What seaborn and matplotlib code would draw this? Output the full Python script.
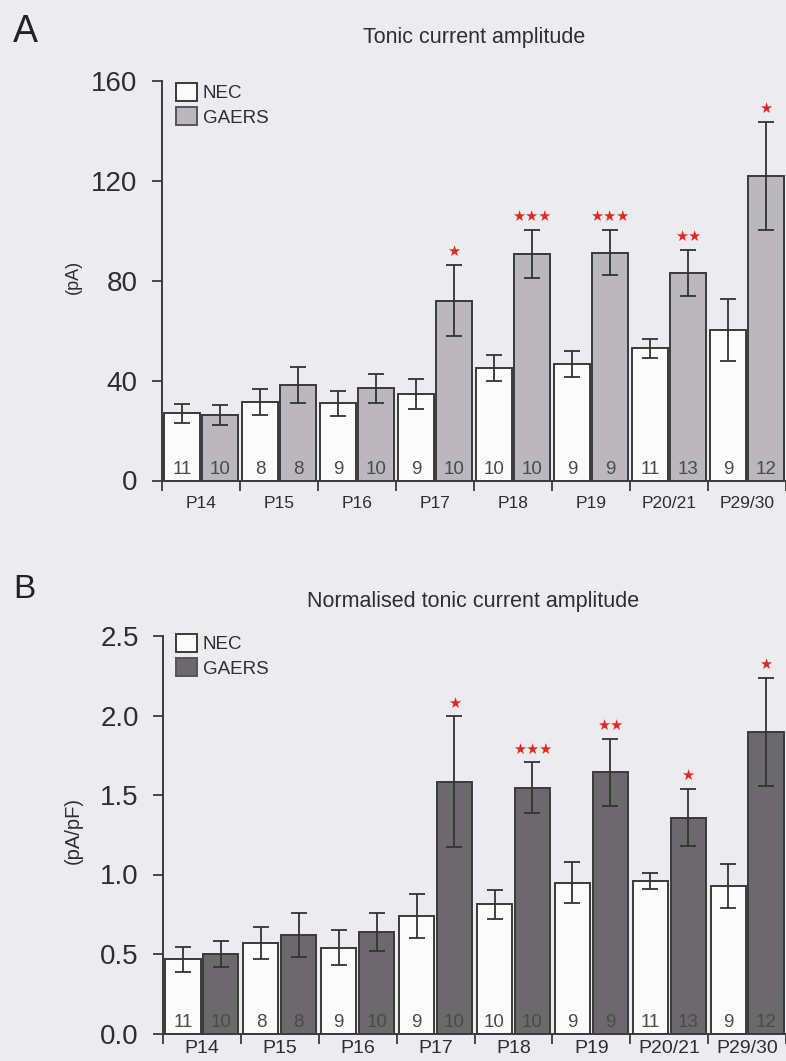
import numpy as np
import pandas as pd
import matplotlib
matplotlib.use("Agg")
import matplotlib.pyplot as plt
from matplotlib.patches import Patch
import seaborn as sns

# ---------------- data ----------------
ages = ["P14", "P15", "P16", "P17", "P18", "P19", "P20/21", "P29/30"]
strains = ["NEC", "GAERS"]

tonic_nec = [27, 31.5, 31, 34.7, 45, 46.7, 53, 60.3]
tonic_nec_sem = [3.8, 5.3, 5, 6.1, 5.2, 5.1, 3.8, 12.5]
tonic_gaers = [26.3, 38.2, 36.9, 72, 90.7, 91.3, 83.1, 122]
tonic_gaers_sem = [4, 7.1, 5.8, 14.3, 9.7, 9.1, 9.2, 21.6]

norm_nec = [0.467, 0.571, 0.54, 0.739, 0.813, 0.948, 0.961, 0.928]
norm_nec_sem = [0.079, 0.10, 0.11, 0.14, 0.09, 0.13, 0.05, 0.14]
norm_gaers = [0.50, 0.62, 0.64, 1.584, 1.546, 1.643, 1.357, 1.898]
norm_gaers_sem = [0.08, 0.14, 0.12, 0.41, 0.16, 0.21, 0.18, 0.34]

n_nec = [11, 8, 9, 9, 10, 9, 11, 9]
n_gaers = [10, 8, 10, 10, 10, 9, 13, 12]

sig_tonic = ["", "", "", "★", "★★★", "★★★", "★★", "★"]
sig_norm = ["", "", "", "★", "★★★", "★★", "★", "★"]

# ---------------- style ----------------
sns.set_style("ticks")
plt.rcParams["font.family"] = ["Liberation Sans", "DejaVu Sans"]

BG = "#ecebf0"
EDGE = "#3a3a3a"
TXT = "#2e2e2e"
STAR = "#e3281e"

W, H = 786, 1061
fig = plt.figure(figsize=(W / 100, H / 100), dpi=100, facecolor=BG)


def panel(rect, xr, nec, nec_sem, gaers, gaers_sem, sig, gcol, yticks, ylabels,
          ylim, xlab_size, xlab_pad):
    ax = fig.add_axes(rect)
    ax.set_facecolor("none")
    df = pd.DataFrame({
        "age": ages * 2,
        "strain": ["NEC"] * len(ages) + ["GAERS"] * len(ages),
        "value": list(nec) + list(gaers),
    })
    sns.barplot(data=df, x="age", y="value", hue="strain", order=ages,
                hue_order=strains, palette={"NEC": "#fbfbfb", "GAERS": gcol},
                saturation=1, errorbar=None, width=0.97, gap=0.07,
                edgecolor=EDGE, linewidth=1.4, legend=False, ax=ax, zorder=2)
    bars = sorted([p for p in ax.patches], key=lambda p: p.get_x())
    xs = [p.get_x() + p.get_width() / 2 for p in bars]
    hs = [p.get_height() for p in bars]
    errs, counts, stars = [], [], []
    for i in range(len(ages)):
        errs += [nec_sem[i], gaers_sem[i]]
        counts += [n_nec[i], n_gaers[i]]
        stars += ["", sig[i]]
    ax.errorbar(xs, hs, yerr=errs, fmt="none", ecolor="#333333",
                elinewidth=1.3, capsize=5.8, capthick=1.3, zorder=3)
    for x, h, e, c, s in zip(xs, hs, errs, counts, stars):
        ax.annotate(str(c), xy=(x, 0), xytext=(0, 5), textcoords="offset points",
                    ha="center", va="baseline", fontsize=13.5, color="#4a4a4a",
                    zorder=4)
        if s:
            ax.annotate(s, xy=(x, h + e), xytext=(0, 9.5),
                        textcoords="offset points", ha="center", va="center",
                        fontsize=10.5, color=STAR, family="DejaVu Sans",
                        annotation_clip=False, zorder=4)
    ax.set_xlim(*xr)
    ax.set_ylim(*ylim)
    ax.set_yticks(yticks)
    ax.set_yticklabels(ylabels)
    ax.set_xticks(np.arange(-0.5, len(ages), 1.0))
    ax.set_xticklabels([])
    ax.set_xticks(np.arange(len(ages)), minor=True)
    ax.set_xticklabels(ages, minor=True)
    ax.tick_params(axis="x", which="major", length=7.2, width=1.3,
                   color=EDGE, direction="out")
    ax.tick_params(axis="x", which="minor", length=0, pad=xlab_pad,
                   labelsize=xlab_size, labelcolor=TXT)
    ax.tick_params(axis="y", length=7.5, width=1.3, color=EDGE, pad=10,
                   labelsize=20, labelcolor=TXT, direction="out")
    ax.set_xlabel("")
    ax.set_ylabel("")
    for s in ["top", "right"]:
        ax.spines[s].set_visible(False)
    for s in ["left", "bottom"]:
        ax.spines[s].set_color(EDGE)
        ax.spines[s].set_linewidth(1.4)
    ax.spines["left"].set_bounds(ylim[0], ylim[1])
    return ax


# Panel A
axA = panel([162 / W, (H - 480.5) / H, (W - 162) / W, 399.5 / H],
            (-0.5, -0.5 + 624 / 78.5),
            tonic_nec, tonic_nec_sem, tonic_gaers, tonic_gaers_sem, sig_tonic,
            "#bab8bd", [0, 40, 80, 120, 160], ["0", "40", "80", "120", "160"],
            (0, 160), 12.5, 11.5)
# Panel B
axB = panel([163 / W, (H - 1033.5) / H, (W - 163) / W, 397.5 / H],
            (-0.5, -0.5 + 623 / 78.5),
            norm_nec, norm_nec_sem, norm_gaers, norm_gaers_sem, sig_norm,
            "#6c696d", [0, 0.5, 1.0, 1.5, 2.0, 2.5],
            ["0.0", "0.5", "1.0", "1.5", "2.0", "2.5"],
            (0, 2.5), 14, 4.5)

# Legends
for ax, gcol, top in [(axA, "#bab8bd", 83), (axB, "#6c696d", 634)]:
    handles = [Patch(facecolor="#fbfbfb", edgecolor=EDGE, linewidth=1.4),
               Patch(facecolor=gcol, edgecolor="#555555", linewidth=1.4)]
    ax.legend(handles, strains, loc="upper left",
              bbox_to_anchor=(176 / W, 1 - top / H),
              bbox_transform=fig.transFigure, frameon=False, fontsize=13.5,
              handlelength=1.12, handleheight=1.12, handletextpad=0.3,
              labelspacing=0.25, borderpad=0, borderaxespad=0,
              labelcolor=TXT)

# Panel letters, titles, y labels
fig.text(13 / W, 1 - 42 / H, "A", fontsize=27, color="#222222",
         ha="left", va="baseline")
fig.text(13 / W, 1 - 598 / H, "B", fontsize=24, color="#222222",
         ha="left", va="baseline")
fig.text(474 / W, 1 - 43 / H, "Tonic current amplitude", fontsize=15.5,
         color=TXT, ha="center", va="baseline")
fig.text(473 / W, 1 - 607.5 / H, "Normalised tonic current amplitude",
         fontsize=15.5, color=TXT, ha="center", va="baseline")
fig.text(73 / W, 1 - 277 / H, "(pA)", fontsize=13, color=TXT, rotation=90,
         ha="center", va="center")
fig.text(73 / W, 1 - 830 / H, "(pA/pF)", fontsize=14.5, color=TXT,
         rotation=90, ha="center", va="center")

fig.savefig("out.png", dpi=100, facecolor=BG)
